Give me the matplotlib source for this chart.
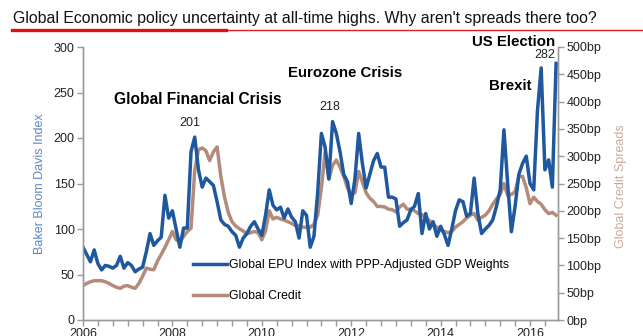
import numpy as np
import matplotlib
matplotlib.use("Agg")
import matplotlib.pyplot as plt
from matplotlib.ticker import MultipleLocator, FuncFormatter
from matplotlib.lines import Line2D

plt.rcParams['font.family'] = ['Liberation Sans', 'DejaVu Sans']

# monthly data, Jan 2006 onwards
start_year = 2006
epu = [80, 72, 64, 77, 62, 55, 60, 59, 57, 60, 70, 57, 63, 60, 53, 56, 58, 75, 95, 82,
       87, 91, 137, 112, 120, 100, 80, 101, 101, 185, 201, 165, 146, 156, 152, 148, 130, 110, 105, 103,
       97, 93, 80, 90, 95, 103, 108, 100, 93, 115, 143, 126, 121, 124, 112, 122, 113, 108, 90, 120,
       115, 80, 92, 140, 205, 190, 155, 218, 205, 185, 160, 152, 128, 155, 205, 172, 145, 160, 175, 183,
       168, 168, 135, 135, 133, 103, 107, 110, 121, 125, 139, 95, 117, 100, 108, 92, 103, 94, 82, 100,
       120, 132, 130, 114, 117, 156, 117, 95, 100, 104, 110, 125, 143, 209, 150, 97, 125, 160, 172, 180,
       150, 143, 230, 277, 165, 176, 146, 282]
credit_bp = [63, 67, 70, 72, 72, 72, 70, 67, 63, 60, 58, 62, 63, 60, 58, 67, 80, 95, 93, 92,
             108, 120, 133, 147, 162, 147, 143, 153, 162, 168, 275, 312, 315, 310, 292, 308, 317, 263, 225, 197,
             180, 172, 167, 163, 158, 160, 162, 160, 147, 163, 200, 185, 188, 185, 183, 180, 177, 173, 173, 170,
             170, 170, 175, 192, 242, 308, 258, 283, 293, 280, 263, 242, 230, 233, 272, 253, 233, 223, 217, 208,
             208, 207, 203, 202, 198, 207, 212, 203, 203, 200, 195, 193, 188, 182, 175, 170, 165, 162, 160, 162,
             170, 175, 180, 187, 192, 195, 183, 188, 192, 200, 212, 222, 230, 250, 228, 230, 235, 263, 263, 242,
             213, 225, 217, 212, 202, 195, 197, 192]
dates = start_year + np.arange(len(epu)) / 12.0

left_ticks = [0, 50, 100, 150, 200, 250, 300]
right_ticks = [0, 50, 100, 150, 200, 250, 300, 350, 400, 450, 500]
year_ticks = [2006, 2008, 2010, 2012, 2014, 2016]

blue = '#1f589e'
brown = '#b38b7a'
grey = '#9a9a9a'

fig = plt.figure(figsize=(6.43, 3.36), dpi=100)
ax = fig.add_axes([83/643, 16/336, 475/643, 273/336])
ax2 = ax.twinx()
ax.set_zorder(ax2.get_zorder() + 1)
ax.patch.set_visible(False)

l2, = ax2.plot(dates, credit_bp, color=brown, lw=2.5, solid_joinstyle='round')
l1, = ax.plot(dates, epu, color=blue, lw=2.5, solid_joinstyle='round')

ax.set_xlim(2006, 2006 + 475/44.7)
ax.set_ylim(0, 300)
ax2.set_ylim(0, 500)
ax.set_yticks(left_ticks)
ax2.set_yticks(right_ticks)
ax2.yaxis.set_major_formatter(FuncFormatter(lambda v, p: f'{int(v)}bp'))
ax.set_xticks(year_ticks)
ax.xaxis.set_minor_locator(MultipleLocator(1/3))

for a in (ax, ax2):
    for s in a.spines.values():
        s.set_color(grey)
        s.set_linewidth(1.0)
    a.spines['top'].set_visible(False)
    a.tick_params(axis='both', which='both', direction='out', length=4, width=1,
                  color=grey, labelsize=9, labelcolor='#222222', pad=2)

ax.set_ylabel('Baker Bloom Davis Index', color='#5b86c4', fontsize=9)
ax.yaxis.set_label_coords(-0.078, 0.5)
ax2.set_ylabel('Global Credit Spreads', color='#c9ab9c', fontsize=9)
ax2.yaxis.set_label_coords(1.12, 0.49)

# annotations
ax.text(2008.57, 242, 'Global Financial Crisis', fontsize=11.2, fontweight='bold', ha='center', va='center')
ax.text(2008.39, 217, '201', fontsize=9, ha='center', va='center', color='#222222')
ax.text(2011.87, 271, 'Eurozone Crisis', fontsize=10.8, fontweight='bold', ha='center', va='center')
ax.text(2011.53, 234, '218', fontsize=9, ha='center', va='center', color='#222222')
ax.text(2015.55, 257, 'Brexit', fontsize=10.8, fontweight='bold', ha='center', va='center')
ax.text(2015.63, 305, 'US Election', fontsize=10.8, fontweight='bold', ha='center', va='center', clip_on=False)
ax.text(2016.34, 291, '282', fontsize=9, ha='center', va='center', color='#222222')

ax.legend([l1, l2], ['Global EPU Index with PPP-Adjusted GDP Weights', 'Global Credit'],
          loc='upper left', bbox_to_anchor=(193/643, (336-259)/336), bbox_transform=fig.transFigure,
          frameon=False, borderpad=0, borderaxespad=0, handlelength=2.8, handletextpad=0.15,
          labelspacing=1.55, fontsize=8.8)

# title with red underline
fig.text(13/643, 1 - 18/336, "Global Economic policy uncertainty at all-time highs. Why aren't spreads there too?",
         fontsize=11.4, ha='left', va='center', color='#111111')
fig.add_artist(Line2D([225/643, 1.0], [1 - 30/336, 1 - 30/336], color='#e02020', lw=1.0))
fig.add_artist(Line2D([12/643, 226/643], [1 - 30/336, 1 - 30/336], color='#e01010', lw=2.4))

fig.savefig('out.png', dpi=100)
